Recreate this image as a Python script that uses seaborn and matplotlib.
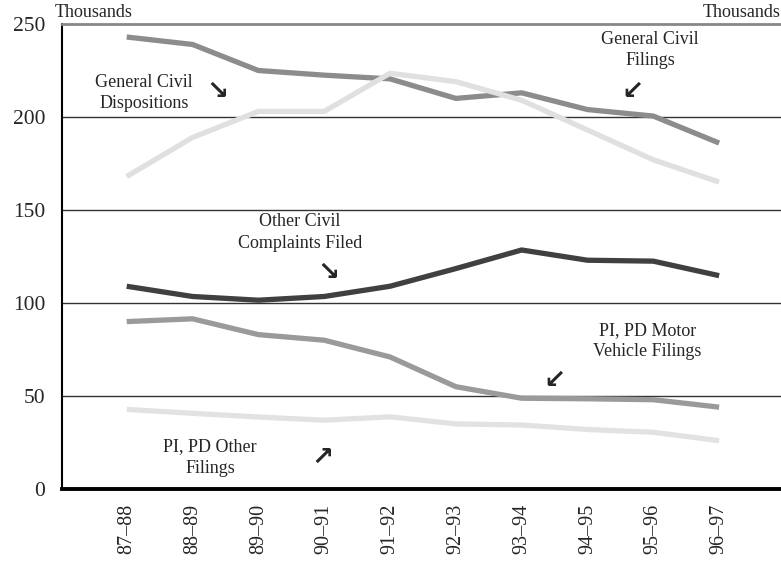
import matplotlib
matplotlib.use("Agg")
import matplotlib.pyplot as plt
import seaborn as sns
import pandas as pd

years = ["87–88", "88–89", "89–90", "90–91", "91–92", "92–93", "93–94", "94–95", "95–96", "96–97"]
general_civil_filings = [243, 239, 225, 222.5, 220.5, 210, 213, 204, 200.5, 186]
general_civil_dispositions = [168, 189, 203, 203, 223.5, 219, 209, 193, 177, 165]
other_civil_complaints = [109, 103.5, 101.5, 103.5, 109, 118.5, 128.5, 123, 122.5, 114.7]
pi_pd_motor_vehicle = [90, 91.5, 83, 80, 71, 55, 48.8, 48.5, 48, 44]
pi_pd_other = [42.8, 40.7, 38.7, 37, 38.8, 35, 34.4, 32, 30.5, 26]

series_names = ["General Civil Filings", "General Civil Dispositions",
                "Other Civil Complaints Filed", "PI, PD Motor Vehicle Filings",
                "PI, PD Other Filings"]
series_values = [general_civil_filings, general_civil_dispositions,
                 other_civil_complaints, pi_pd_motor_vehicle, pi_pd_other]
colors = ["#8c8c8c", "#e0e0e0", "#404040", "#9a9a9a", "#e2e2e2"]

rows = []
for name, vals in zip(series_names, series_values):
    for i, v in enumerate(vals):
        rows.append({"idx": i, "value": v, "series": name})
df = pd.DataFrame(rows)

sns.set_style("white")
plt.rcParams["font.family"] = ["Liberation Serif", "DejaVu Serif"]

fig = plt.figure(figsize=(7.81, 5.67), dpi=100)
ax = fig.add_axes([62/781, 78/567, 1 - 62/781, (489 - 24)/567])

# gridlines
for g in [50, 100, 150, 200]:
    ax.axhline(g, color="#333333", lw=1.0, zorder=1)

sns.lineplot(data=df, x="idx", y="value", hue="series", hue_order=series_names,
             palette=dict(zip(series_names, colors)), linewidth=3.8,
             legend=False, ax=ax, zorder=3)
for line in ax.lines:
    line.set_solid_capstyle("butt")

ax.set_xlim(-0.983, 9.94)
ax.set_ylim(0, 250)
ax.set_xticks(range(len(years)))
ax.set_xticklabels(years, rotation=90, fontsize=14.5)
ax.set_yticks([0, 50, 100, 150, 200, 250])
ax.set_yticklabels(["0", "50", "100", "150", "200", "250"], fontsize=15.5)
ax.set_xlabel("")
ax.set_ylabel("")

ax.tick_params(axis="x", direction="inout", length=11, width=2, color="black", pad=5)
ax.tick_params(axis="y", direction="out", length=8, width=1.2, color="black", pad=4)

ax.spines["right"].set_visible(False)
ax.spines["left"].set_color("black")
ax.spines["left"].set_linewidth(1.5)
ax.spines["bottom"].set_color("black")
ax.spines["bottom"].set_linewidth(2.8)
ax.spines["top"].set_color("#888888")
ax.spines["top"].set_linewidth(2.0)
ax.spines["bottom"].set_zorder(5)

# labels
lab_kw = dict(fontsize=13, ha="center", va="center", linespacing=1.35)
ax.text(0.26, 213, "General Civil\nDispositions", **lab_kw)
ax.text(7.95, 236, "General Civil\nFilings", **lab_kw)
ax.text(2.63, 138, "Other Civil\nComplaints Filed", **lab_kw)
ax.text(7.91, 79.6, "PI, PD Motor\nVehicle Filings", **lab_kw)
ax.text(1.27, 17, "PI, PD Other\nFilings", **lab_kw)

arr_kw = dict(fontsize=19, ha="center", va="center", family=["DejaVu Sans"], fontweight="bold")
ax.text(1.375, 213.5, "↘", **arr_kw)
ax.text(7.68, 213.5, "↙", **arr_kw)
ax.text(3.06, 116, "↘", **arr_kw)
ax.text(6.5, 58, "↙", **arr_kw)
ax.text(2.97, 17, "↗", **arr_kw)

fig.text(55/781, 1 - 21/567, "Thousands", fontsize=13, ha="left", va="bottom")
fig.text(1.0, 1 - 21/567, "Thousands", fontsize=13, ha="right", va="bottom")

fig.savefig("out.png", dpi=100)
